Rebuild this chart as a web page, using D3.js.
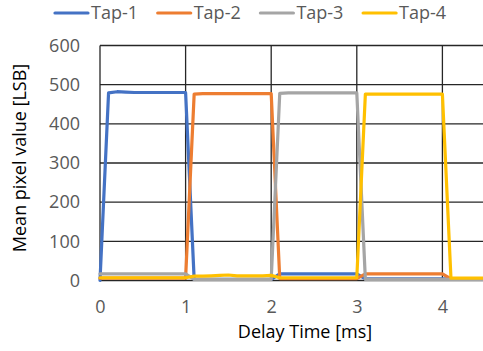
<!DOCTYPE html>
<html>
<head>
<meta charset="utf-8">
<script src="https://cdn.jsdelivr.net/npm/d3@7"></script>
<style>
  html, body { margin: 0; padding: 0; background: #fff; }
  svg { display: block; font-family: "Open Sans", sans-serif; }
</style>
</head>
<body>
<svg id="chart" width="483" height="351"></svg>
<script>
// Delay time samples (ms), 0.1 ms steps
const delayTimes = d3.range(0, 46).map(i => +(i / 10).toFixed(1));

// Mean pixel value per tap [LSB]
const tap1 = [0, 479, 482, 481, 480, 480, 480, 480, 480, 480, 480,
  3, 3, 3, 3, 3, 3, 3, 3, 3, 3,
  17, 17, 17, 17, 17, 17, 17, 17, 17, 17,
  4, 4, 4, 4, 4, 4, 4, 4, 4, 4,
  4, 4, 4, 4, 4];
const tap2 = [6, 6, 6, 6, 6, 6, 6, 6, 6, 6, 6,
  476, 477, 477, 477, 477, 477, 477, 477, 477, 477,
  5, 5, 5, 5, 5, 5, 5, 5, 5, 5,
  17, 17, 17, 17, 17, 17, 17, 17, 17, 17,
  4, 4, 4, 4, 4];
const tap3 = [17, 17, 17, 17, 17, 17, 17, 17, 17, 17, 17,
  3, 3, 3, 3, 3, 3, 3, 3, 3, 3,
  478, 479, 479, 479, 479, 479, 479, 479, 479, 479,
  3, 3, 3, 3, 3, 3, 3, 3, 3, 3,
  3, 3, 3, 3, 3];
const tap4 = [7, 7, 7, 7, 7, 7, 7, 7, 7, 7, 7,
  11, 11, 12, 13, 14, 12, 12, 12, 12, 13,
  7, 7, 7, 7, 7, 7, 7, 7, 7, 7,
  476, 476, 476, 476, 476, 476, 476, 476, 476, 476,
  6, 6, 6, 6, 6];

const seriesNames = ["Tap-1", "Tap-2", "Tap-3", "Tap-4"];
const seriesColors = ["#4472C4", "#ED7D31", "#A5A5A5", "#FFC000"];
const seriesValues = [tap1, tap2, tap3, tap4];

const yTicks = [0, 100, 200, 300, 400, 500, 600];
const xTicks = [0, 1, 2, 3, 4];

const svg = d3.select("#chart");
const W = 483, H = 351;

const x = d3.scaleLinear().domain([0, 5]).range([100, 528]);
const y = d3.scaleLinear().domain([0, 600]).range([280.5, 45.5]);

svg.append("defs").append("clipPath").attr("id", "plotClip")
  .append("rect").attr("x", 98).attr("y", 30).attr("width", W - 98).attr("height", 260);

// Gridlines
const grid = svg.append("g").attr("stroke", "#262626").attr("stroke-width", 1.3);
grid.selectAll("line.h").data(yTicks).join("line")
  .attr("class", "h")
  .attr("x1", x(0)).attr("x2", W)
  .attr("y1", d => y(d)).attr("y2", d => y(d));
grid.selectAll("line.v").data(xTicks).join("line")
  .attr("class", "v")
  .attr("x1", d => x(d)).attr("x2", d => x(d))
  .attr("y1", y(600)).attr("y2", y(0));

// Axes (labels only)
const yAxis = svg.append("g")
  .attr("transform", `translate(${x(0)},0)`)
  .call(d3.axisLeft(y).tickValues(yTicks).tickFormat(d3.format("d")).tickSize(0).tickPadding(20));
const xAxis = svg.append("g")
  .attr("transform", `translate(0,${y(0)})`)
  .call(d3.axisBottom(x).tickValues(xTicks).tickFormat(d3.format("d")).tickSize(0).tickPadding(20));
[yAxis, xAxis].forEach(a => {
  a.select(".domain").remove();
  a.selectAll("text").attr("fill", "#595959").style("font-size", "18px")
    .style("font-family", "'Open Sans', sans-serif");
});

// Series lines
const line = d3.line()
  .x((d, i) => x(delayTimes[i]))
  .y(d => y(d));
svg.append("g").attr("clip-path", "url(#plotClip)")
  .selectAll("path").data(seriesValues).join("path")
  .attr("d", line)
  .attr("fill", "none")
  .attr("stroke", (d, i) => seriesColors[i])
  .attr("stroke-width", 3.2)
  .attr("stroke-linejoin", "round")
  .attr("stroke-linecap", "round");

// Axis titles
svg.append("text")
  .attr("x", 305).attr("y", 338)
  .attr("text-anchor", "middle")
  .attr("fill", "#000")
  .style("font-size", "18px")
  .text("Delay Time [ms]");
svg.append("text")
  .attr("transform", "translate(26,158) rotate(-90)")
  .attr("text-anchor", "middle")
  .attr("fill", "#000")
  .style("font-size", "18px")
  .text("Mean pixel value [LSB]");

// Legend
const legend = svg.append("g");
const item = legend.selectAll("g").data(seriesNames).join("g")
  .attr("transform", (d, i) => `translate(${55 + i * 102.7},0)`);
item.append("line")
  .attr("x1", 0).attr("x2", 33).attr("y1", 13).attr("y2", 13)
  .attr("stroke", (d, i) => seriesColors[i])
  .attr("stroke-width", 3.2).attr("stroke-linecap", "round");
item.append("text")
  .attr("x", 36).attr("y", 19)
  .attr("fill", "#595959")
  .style("font-size", "18px")
  .text(d => d);
</script>
</body>
</html>
